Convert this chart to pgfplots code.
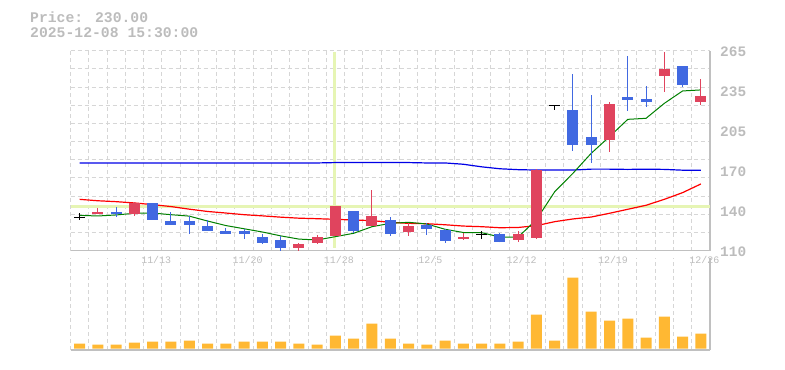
\documentclass[border=0pt]{standalone}
\usepackage{fontspec}
\setmainfont{Liberation Mono}
\usepackage{pgfplots}
\usepackage{pgfplotstable}
\pgfplotsset{compat=1.18}

\definecolor{upc}{RGB}{224,68,94}
\definecolor{dnc}{RGB}{65,105,225}
\definecolor{volc}{RGB}{255,184,51}
\definecolor{gridc}{RGB}{214,214,214}
\definecolor{axc}{RGB}{192,192,192}
\definecolor{txtc}{RGB}{188,188,188}
\definecolor{crossc}{RGB}{230,245,180}
\definecolor{maS}{RGB}{0,128,0}
\definecolor{maM}{RGB}{255,0,0}
\definecolor{maL}{RGB}{0,0,230}

\pgfplotstableread{
i o h l c
1 138.5 143.1 138.5 140
3 138.5 147.7 136.9 147
12 112.3 116 110 115.2
13 116.2 122.2 115.4 120.6
14 121.6 144.9 121.6 144.9
16 129.4 157 129.4 136.9
18 124.7 131.7 121.6 129.1
21 119 124 118.3 120.6
24 118.3 125.3 116.5 122.9
25 119.8 173 119.1 172.6
29 196 225.3 186.7 223.7
32 245.6 264 233.2 250.8
34 225.5 243.1 223.2 230
}\upcandles

\pgfplotstableread{
i o h l c
2 140 143.9 136.1 138.5
4 147 147 134 134
5 133 140 130.2 130.2
6 133 136.9 123.2 130.2
7 129.1 133.8 125.5 125.5
8 125.3 127.6 123.2 123.2
9 125.3 127 119.3 123.2
10 120.6 122.7 115.4 116.2
11 118.3 121.6 110 112.3
15 140.8 140.8 124 125.5
17 133.8 136.1 121.6 123.2
19 129.9 131.7 122.4 127.1
20 126 126.8 116.2 117.7
23 122.9 123.7 116.5 116.5
27 219 247 187.5 192.2
28 198.1 230.7 178.2 192.2
30 229.1 260.9 218.5 227
31 227.6 237.6 221.6 225.5
33 253.1 253.1 237 238.7
}\dncandles

\pgfplotstableread{
i o h l c
0 135.9 139.5 134 135.9
22 122.2 125.3 119 122.2
26 222.4 222.4 219 222.4
}\dojis

\pgfplotstableread{
i s m L v
0 137.4 149.8 178 5
1 136.9 148.7 178 4
2 137.7 148.0 178 4
3 139.0 147.0 178 6
4 139.2 145.7 178 7
5 137.9 144.2 178 7
6 136.8 142.2 178 8
7 133.0 140.4 178 5
8 129.5 139.2 178 5
9 127.0 137.9 178 7
10 124.5 137.0 178 7
11 121.5 136.0 178 7
12 119.0 135.2 178 5
13 118.3 134.8 178 4
14 120.9 134.3 178.3 13
15 123.5 133.8 178.3 10
16 128.6 133.3 178.3 25
17 131.2 132.0 178.3 10
18 132.0 131.2 178.3 5
19 130.7 130.9 178 4
20 126.6 130.1 178 8
21 124.1 129.1 177 5
22 124.0 128.6 175 5
23 120.6 127.8 173.5 5
24 120.6 128.0 172.8 7
25 134.0 129.4 172.5 34
26 155.7 132.5 172.5 8
27 170.0 134.6 172.5 71
28 185.5 136.1 173.2 37
29 198.4 139.0 173.2 28
30 211.8 142.1 173.0 30
31 212.6 145.2 173.2 11
32 224.2 149.8 173.0 32
33 233.8 155.0 172.4 12
34 234.6 161.7 172.3 15
}\series

\pgfplotsset{
  candle/.style={draw=none, mark=none, forget plot,
    error bars/.cd, y dir=both, y explicit, error mark=none,
    error bar style={draw=#1, line width=1bp}},
  body/.style={draw=none, mark=none, forget plot,
    error bars/.cd, y dir=both, y explicit, error mark=none,
    error bar style={draw=#1, line width=11bp}},
}

\begin{document}
\begin{tikzpicture}
\path[use as bounding box] (0,0) rectangle (785bp,370bp);
\node[anchor=base west, inner sep=0pt, text=txtc, font=\bfseries\fontsize{14.8}{15}\selectfont] at (30bp,347.3bp) {Price: 230.00};
\node[anchor=base west, inner sep=0pt, text=txtc, font=\bfseries\fontsize{14.8}{15}\selectfont] at (30bp,332.3bp) {2025-12-08 15:30:00};

% price panel
\begin{axis}[
  at={(70.5bp,119.3bp)}, anchor=south west,
  width=639.5bp, height=200bp, scale only axis,
  xmin=-0.5, xmax=34.5, ymin=110, ymax=265,
  axis x line=bottom, axis y line=right,
  axis line style={-, draw=axc, line width=1.2bp},
  xtick={-0.5,0.5,...,34.5}, xticklabels={},
  ytick={110,124.0909,138.1818,152.2727,166.3636,180.4545,194.5455,208.6364,222.7273,236.8182,250.9091,265},
  yticklabels={},
  grid=major,
  grid style={draw=gridc, line width=1bp, dash pattern=on 4bp off 3bp},
  major tick length=0pt,
  tick style={draw=none},
  extra x ticks={4,9,14,19,24,29,34},
  extra x tick labels={11/13,11/20,11/28,12/5,12/12,12/19,12/26},
  extra x tick style={grid=none, xticklabel style={anchor=north, inner sep=0pt, yshift=-5.5bp, xshift=3.5bp, text=txtc, font=\fontsize{10}{10}\selectfont}},
  extra y ticks={110,141,172,203,234,265},
  extra y tick labels={110,140,170,205,235,265},
  extra y tick style={grid=none, yticklabel style={anchor=west, inner sep=0pt, xshift=10bp, yshift=-1.5bp, text=txtc, font=\bfseries\fontsize{14.5}{15}\selectfont}},
  /pgf/number format/assume math mode=true,
  clip=true,
]
% crosshair
\addplot[crossc, line width=3bp, mark=none] coordinates {(13.93,112) (13.93,264)};
\addplot[crossc, line width=3bp, mark=none] coordinates {(-0.5,144.5) (34.5,144.5)};
% moving averages
\addplot[maL, line width=1.2bp, mark=none] table[x=i, y=L] {\series};
\addplot[maM, line width=1.2bp, mark=none] table[x=i, y=m] {\series};
\addplot[maS, line width=1bp, mark=none] table[x=i, y=s] {\series};
% wicks
\addplot[candle=upc]
  table[x=i, y=c, y error plus expr=\thisrow{h}-\thisrow{c}, y error minus expr=\thisrow{c}-\thisrow{l}] {\upcandles};
\addplot[candle=dnc]
  table[x=i, y=c, y error plus expr=\thisrow{h}-\thisrow{c}, y error minus expr=\thisrow{c}-\thisrow{l}] {\dncandles};
\addplot[candle=black]
  table[x=i, y=c, y error plus expr=\thisrow{h}-\thisrow{c}, y error minus expr=\thisrow{c}-\thisrow{l}] {\dojis};
% bodies
\addplot[body=upc]
  table[x=i, y expr=(\thisrow{o}+\thisrow{c})/2, y error expr=abs(\thisrow{c}-\thisrow{o})/2] {\upcandles};
\addplot[body=dnc]
  table[x=i, y expr=(\thisrow{o}+\thisrow{c})/2, y error expr=abs(\thisrow{c}-\thisrow{o})/2] {\dncandles};
\addplot[draw=none, mark=none, forget plot, error bars/.cd, x dir=both, x fixed=0.3, error mark=none,
  error bar style={draw=black, line width=1bp}]
  table[x=i, y=c] {\dojis};
\end{axis}

% volume panel
\begin{axis}[
  at={(70.5bp,20bp)}, anchor=south west,
  width=639.5bp, height=92bp, scale only axis,
  xmin=-0.5, xmax=34.5, ymin=-1.5, ymax=90.5,
  axis x line=bottom, axis y line=right,
  axis line style={-, draw=axc, line width=1.2bp},
  xtick={-0.5,0.5,...,34.5}, xticklabels={},
  ytick=\empty,
  xmajorgrids,
  grid style={draw=gridc, line width=1bp, dash pattern=on 4bp off 3bp},
  major tick length=0pt,
  tick style={draw=none},
  ybar, bar width=11bp,
]
\addplot[fill=volc, draw=none] table[x=i, y=v] {\series};
\end{axis}
\end{tikzpicture}
\end{document}
